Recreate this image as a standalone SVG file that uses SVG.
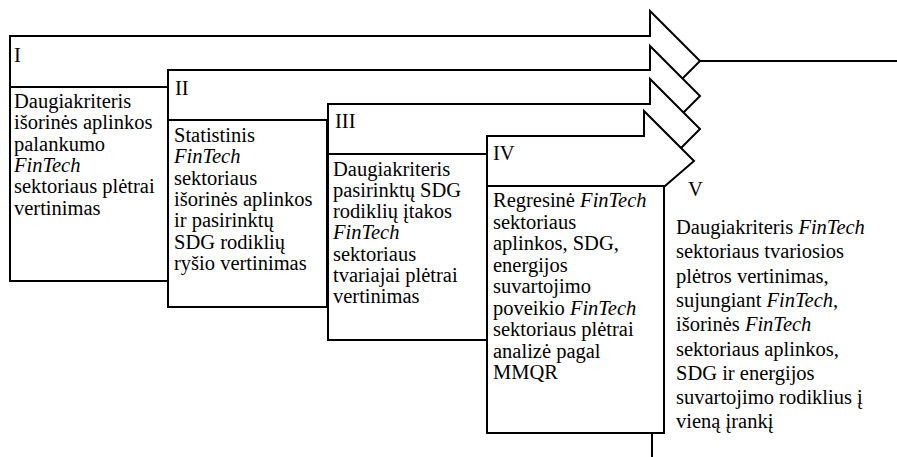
<svg xmlns="http://www.w3.org/2000/svg" width="897" height="457" viewBox="0 0 897 457">
  <style>
    .shape { fill: #ffffff; stroke: #000000; stroke-width: 2; stroke-linejoin: miter; }
    .line { fill: none; stroke: #000000; stroke-width: 2; }
    .txt { font-family: 'Liberation Serif', Tinos, 'DejaVu Serif', serif; font-size: 20.5px; fill: #000000; }
    .it { font-style: italic; }
  </style>
  <rect x="0" y="0" width="897" height="457" fill="#ffffff"/>

  <!-- Stage I: arrow band with its description box -->
  <g id="stage-1">
    <polygon class="shape" points="10,36 650,36 650,11 700,61 650,111 650,87 10,87"/>
    <rect class="shape" x="10" y="87" width="158" height="194"/>
    <text class="txt" x="14" y="62">I</text>
    <text class="txt">
      <tspan x="14" y="108">Daugiakriteris</tspan>
      <tspan x="14" y="129.3">išorinės aplinkos</tspan>
      <tspan x="14" y="150.6">palankumo</tspan>
      <tspan x="14" y="171.9" class="it">FinTech</tspan>
      <tspan x="14" y="193.2">sektoriaus plėtrai</tspan>
      <tspan x="14" y="214.5">vertinimas</tspan>
    </text>
  </g>

  <!-- Stage II -->
  <g id="stage-2">
    <polygon class="shape" points="168,70 650,70 650,46 700,96 650,146 650,120 168,120"/>
    <rect class="shape" x="168" y="120" width="159" height="187"/>
    <text class="txt" x="175" y="95">II</text>
    <text class="txt">
      <tspan x="174" y="142">Statistinis</tspan>
      <tspan x="174" y="163.3" class="it">FinTech</tspan>
      <tspan x="174" y="184.6">sektoriaus</tspan>
      <tspan x="174" y="205.9">išorinės aplinkos</tspan>
      <tspan x="174" y="227.2">ir pasirinktų</tspan>
      <tspan x="174" y="248.5">SDG rodiklių</tspan>
      <tspan x="174" y="269.8">ryšio vertinimas</tspan>
    </text>
  </g>

  <!-- Stage III -->
  <g id="stage-3">
    <polygon class="shape" points="328,104 650,104 650,79 700,129 650,179 650,154 328,154"/>
    <rect class="shape" x="328" y="154" width="159" height="186"/>
    <text class="txt" x="335" y="128">III</text>
    <text class="txt">
      <tspan x="333" y="175.5">Daugiakriteris</tspan>
      <tspan x="333" y="196.8">pasirinktų SDG</tspan>
      <tspan x="333" y="218.1">rodiklių įtakos</tspan>
      <tspan x="333" y="239.4" class="it">FinTech</tspan>
      <tspan x="333" y="260.7">sektoriaus</tspan>
      <tspan x="333" y="282">tvariajai plėtrai</tspan>
      <tspan x="333" y="303.3">vertinimas</tspan>
    </text>
  </g>

  <!-- Stage IV -->
  <g id="stage-4">
    <polygon class="shape" points="487,136 644,136 644,111 694,161 665,186 487,186"/>
    <rect class="shape" x="487" y="186" width="177" height="247"/>
    <text class="txt" x="493" y="160">IV</text>
    <text class="txt">
      <tspan x="493" y="207">Regresinė <tspan class="it">FinTech</tspan></tspan>
      <tspan x="493" y="228.5">sektoriaus</tspan>
      <tspan x="493" y="250">aplinkos, SDG,</tspan>
      <tspan x="493" y="271.5">energijos</tspan>
      <tspan x="493" y="293">suvartojimo</tspan>
      <tspan x="493" y="314.5">poveikio <tspan class="it">FinTech</tspan></tspan>
      <tspan x="493" y="336">sektoriaus plėtrai</tspan>
      <tspan x="493" y="357.5">analizė pagal</tspan>
      <tspan x="493" y="379">MMQR</tspan>
    </text>
  </g>

  <!-- Stage V: outcome text, no frame -->
  <g id="stage-5">
    <text class="txt" x="688" y="196">V</text>
    <text class="txt">
      <tspan x="676" y="234">Daugiakriteris <tspan class="it">FinTech</tspan></tspan>
      <tspan x="676" y="258.3">sektoriaus tvariosios</tspan>
      <tspan x="676" y="282.6">plėtros vertinimas,</tspan>
      <tspan x="676" y="306.9">sujungiant <tspan class="it">FinTech</tspan>,</tspan>
      <tspan x="676" y="331.2">išorinės <tspan class="it">FinTech</tspan></tspan>
      <tspan x="676" y="355.5">sektoriaus aplinkos,</tspan>
      <tspan x="676" y="379.8">SDG ir energijos</tspan>
      <tspan x="676" y="404.1">suvartojimo rodiklius į</tspan>
      <tspan x="676" y="428.4">vieną įrankį</tspan>
    </text>
  </g>

  <!-- Connectors: output line from the merged arrow tips, and the drop below stage IV -->
  <g id="connectors">
    <line class="line" x1="700" y1="61" x2="897" y2="61"/>
    <line class="line" x1="652" y1="433" x2="652" y2="457"/>
  </g>
</svg>
